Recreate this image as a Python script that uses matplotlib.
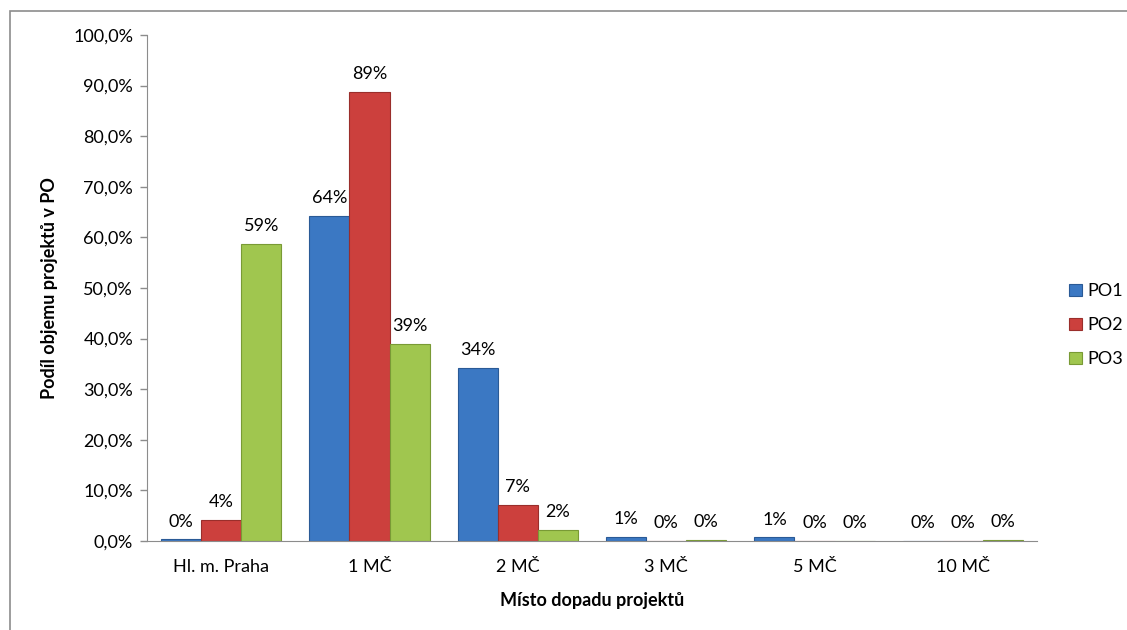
import matplotlib
matplotlib.use("Agg")
import matplotlib.pyplot as plt
import numpy as np
from matplotlib.patches import Rectangle
from matplotlib.ticker import FuncFormatter

categories = ["Hl. m. Praha", "1 MČ", "2 MČ", "3 MČ", "5 MČ", "10 MČ"]
series_names = ["PO1", "PO2", "PO3"]
po1 = [0.3, 64.2, 34.2, 0.8, 0.7, 0.0]
po2 = [4.2, 88.7, 7.1, 0.0, 0.0, 0.0]
po3 = [58.7, 38.9, 2.2, 0.2, 0.0, 0.2]
yticks = [0, 10, 20, 30, 40, 50, 60, 70, 80, 90, 100]

colors = ["#3B78C3", "#CC403D", "#A0C64F"]
edges = ["#2A5A96", "#9A2E2B", "#799A35"]

plt.rcParams['font.family'] = ['Lato', 'DejaVu Sans']
FS = 13

fig = plt.figure(figsize=(11.27, 6.30), dpi=100)
fig.patches.append(Rectangle((10 / 1127, -0.1), 1.2, 1 - 11 / 630 + 0.1,
                             transform=fig.transFigure, fill=False,
                             edgecolor="#8C8C8C", linewidth=1.2))
ax = fig.add_axes([147 / 1127, 1 - 541 / 630, 890 / 1127, 506 / 630])

x = np.arange(len(categories))
w = 0.27
for i, vals in enumerate([po1, po2, po3]):
    pos = x + (i - 1) * w
    ax.bar(pos, vals, width=w, color=colors[i], edgecolor=edges[i],
           linewidth=0.8, label=series_names[i], zorder=2)
    for xp, v in zip(pos, vals):
        ax.annotate(f"{v:.0f}%", (xp, v), xytext=(0, 7), textcoords="offset points",
                    ha="center", va="bottom", fontsize=FS, color="#000000")

ax.set_xlim(-0.5, len(categories) - 0.5)
ax.set_ylim(0, 100)
ax.set_yticks(yticks)
ax.yaxis.set_major_formatter(FuncFormatter(lambda v, p: f"{v:.1f}%".replace(".", ",")))
ax.set_xticks(x)
ax.set_xticklabels(categories)
ax.tick_params(axis="x", length=0, pad=13, labelsize=FS)
ax.tick_params(axis="y", length=5, color="#8C8C8C", width=1, pad=5, labelsize=FS)

for s in ["top", "right"]:
    ax.spines[s].set_visible(False)
ax.spines["left"].set_color("#8C8C8C")
ax.spines["bottom"].set_color("#8C8C8C")

ax.set_ylabel("Podíl objemu projektů v PO", fontsize=FS, fontweight="bold", labelpad=11)
ax.set_xlabel("Místo dopadu projektů", fontsize=FS, fontweight="bold", labelpad=12)

leg = fig.legend(loc="upper left", bbox_to_anchor=(1062 / 1127, 1 - 276 / 630),
                 frameon=False, fontsize=FS, handlelength=0.7, handleheight=0.7,
                 labelspacing=1.0, handletextpad=0.3, borderaxespad=0)

fig.savefig("out.png", dpi=100)
